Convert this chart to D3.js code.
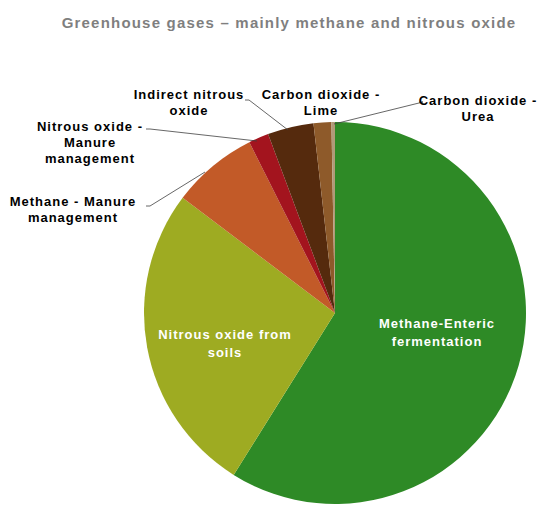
<!DOCTYPE html>
<meta charset="utf-8">
<head>
    <title>Greenhouse gases pie</title>
    <script src="https://d3js.org/d3.v7.min.js"></script>
</head>

<style>
body { margin: 0; background: #fff; }
text { font-family: "Liberation Sans", Arial, sans-serif; font-weight: bold; }
</style>

<body>
<svg></svg>
<script>

// data, in chart order (clockwise from 12 o'clock)
let categories = [
  "Methane-Enteric fermentation",
  "Nitrous oxide from soils",
  "Methane - Manure management",
  "Nitrous oxide - Manure management",
  "Indirect nitrous oxide",
  "Carbon dioxide - Lime",
  "Carbon dioxide - Urea"
];
let values = [58.9, 26.4, 7.3, 1.7, 3.9, 1.5, 0.3];

let colors = ["#2e8a26", "#9eab22", "#c25a28", "#a3141e", "#552a0d", "#8e5a2a", "#b09a78"];

// label layout: lines, anchor, leader line or not
let labelLines = [
  ["Methane-Enteric", "fermentation"],
  ["Nitrous oxide from", "soils"],
  ["Methane - Manure", "management"],
  ["Nitrous oxide -", "Manure", "management"],
  ["Indirect nitrous", "oxide"],
  ["Carbon dioxide -", "Lime"],
  ["Carbon dioxide -", "Urea"]
];
let labelPos = [
  {x: 437, y: 328, inside: true},
  {x: 225, y: 339, inside: true},
  {x: 73, y: 206, lx: 146, ly: 206, ex: 205, ey: 172},
  {x: 90, y: 131, lx: 146, ly: 129, ex: 257, ey: 141},
  {x: 189, y: 99, lx: 245, ly: 100, ex: 288, ey: 130},
  {x: 321, y: 99},
  {x: 478, y: 105, lx: 419, ly: 102, ex: 334, ey: 124}
];

let width = 538, height = 505;
let cx = 335, cy = 313, radius = 191;

let svg = d3.select("svg")
    .attr("width", width)
    .attr("height", height);

// title
svg.append("text")
    .attr("x", 289)
    .attr("y", 28)
    .attr("text-anchor", "middle")
    .attr("fill", "#7f7f7f")
    .style("font-size", "15px")
    .style("letter-spacing", "1.2px")
    .text("Greenhouse gases \u2013 mainly methane and nitrous oxide");

let pie = d3.pie().sort(null).value(function(d) { return d; });
let arc = d3.arc().innerRadius(0).outerRadius(radius);

let g = svg.append("g")
    .attr("transform", "translate(" + cx + "," + cy + ")");

g.selectAll("path")
  .data(pie(values))
  .enter()
  .append("path")
  .attr("d", arc)
  .attr("fill", function(d, i) { return colors[i]; });

// leader lines
labelPos.forEach(function(p) {
  if (p.lx === undefined) return;
  svg.append("polyline")
    .attr("points", [p.lx, p.ly, p.lx + 4, p.ly, p.ex, p.ey].join(","))
    .attr("fill", "none")
    .attr("stroke", "#404040")
    .attr("stroke-width", 0.8);
});

// labels
labelLines.forEach(function(lines, i) {
  let p = labelPos[i];
  let t = svg.append("text")
    .attr("text-anchor", "middle")
    .attr("fill", p.inside ? "#ffffff" : "#000000")
    .style("font-size", "13px")
    .style("letter-spacing", "1px");
  lines.forEach(function(s, j) {
    t.append("tspan")
      .attr("x", p.x)
      .attr("y", p.y + j * (p.inside ? 18 : 16))
      .text(s);
  });
});

</script>
</body>
